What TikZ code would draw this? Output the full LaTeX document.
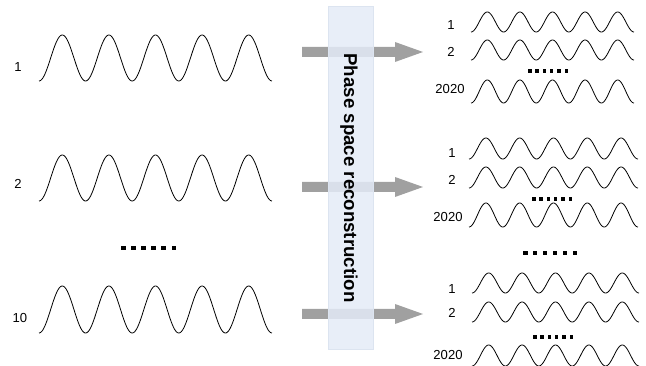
\documentclass[tikz,border=0pt]{standalone}
\usepackage{fontspec}
\setmainfont{Liberation Sans}
\begin{document}
\begin{tikzpicture}[x=0.75pt,y=-0.75pt,
  lbl/.style={font=\fontsize{9.8}{11}\selectfont, inner sep=0pt},
  wave/.style={line width=0.6pt, black, line join=round},
  arrowshape/.style={fill={rgb,255:red,160;green,160;blue,160}, draw=none},
  band/.style={fill={rgb,255:red,228;green,235;blue,247}, fill opacity=0.85, draw={rgb,255:red,220;green,228;blue,240}, line width=0.3pt},
  dotsq/.style={fill=black, draw=none}
]
\useasboundingbox (0,0) rectangle (646,366);
% wave macro: x0, width, center, amplitude
\newcommand{\mywave}[4]{\draw[wave] plot[domain=0:5, samples=240, smooth] ({#1+\x*(#2)/5},{#3+#4*cos(360*\x)});}
% dots: x0, x1, y, size
\newcommand{\mydots}[4]{\foreach \k in {0,...,5}{\pgfmathsetmacro{\xx}{#1+\k*((#2)-(#1)-(#4))/5}\fill[dotsq] (\xx,{#3-#4/2}) rectangle ++(#4,#4);}}
% left waves
\node[lbl] (l1) at (18,67) {1};
\node[lbl] (l2) at (18,184) {2};
\node[lbl] (l10) at (20,318) {10};
\mywave{39}{233}{58}{23}
\mywave{39}{233}{178}{23}
\mywave{39}{233}{309.5}{23.5}
\mydots{121}{176}{248}{4.5}
% arrows
\foreach \yy/\nm in {52/a1,187/a2,314/a3}{
  \coordinate (\nm s) at (302,\yy);
  \coordinate (\nm t) at (423,\yy);
  \fill[arrowshape] (302,\yy-5) -- (395,\yy-5) -- (395,\yy-10) -- (423,\yy) -- (395,\yy+10) -- (395,\yy+5) -- (302,\yy+5) -- cycle;
}
% band
\path[band] (328,6) rectangle (373,349);
\node[rotate=-90, font=\bfseries\fontsize{14}{16}\selectfont, inner sep=0pt] (title) at (349,178) {Phase space reconstruction};
% right top group
\node[lbl] (t1) at (451,25) {1};
\node[lbl] (t2) at (451,52) {2};
\node[lbl] (t3) at (450,89) {2020};
\mywave{471}{163}{22}{10}
\mywave{471}{163}{50}{10}
\mywave{471}{163}{91.5}{11.5}
\mydots{528}{568}{71}{3.5}
% right middle group
\node[lbl] (m1) at (452,153) {1};
\node[lbl] (m2) at (452,180) {2};
\node[lbl] (m3) at (448,217) {2020};
\mywave{469}{169}{148.5}{10.5}
\mywave{469}{169}{177.5}{10.5}
\mywave{469}{169}{215}{12}
\mydots{532}{572}{199}{3.5}
% big dots
\mydots{523}{577}{253}{4.5}
% right bottom group
\node[lbl] (b1) at (452,289) {1};
\node[lbl] (b2) at (452,313) {2};
\node[lbl] (b3) at (448,355) {2020};
\mywave{472}{167}{283}{10}
\mywave{472}{167}{312}{10}
\mywave{472}{167}{355.5}{10.5}
\mydots{533}{573}{337}{3.5}
\end{tikzpicture}
\end{document}
